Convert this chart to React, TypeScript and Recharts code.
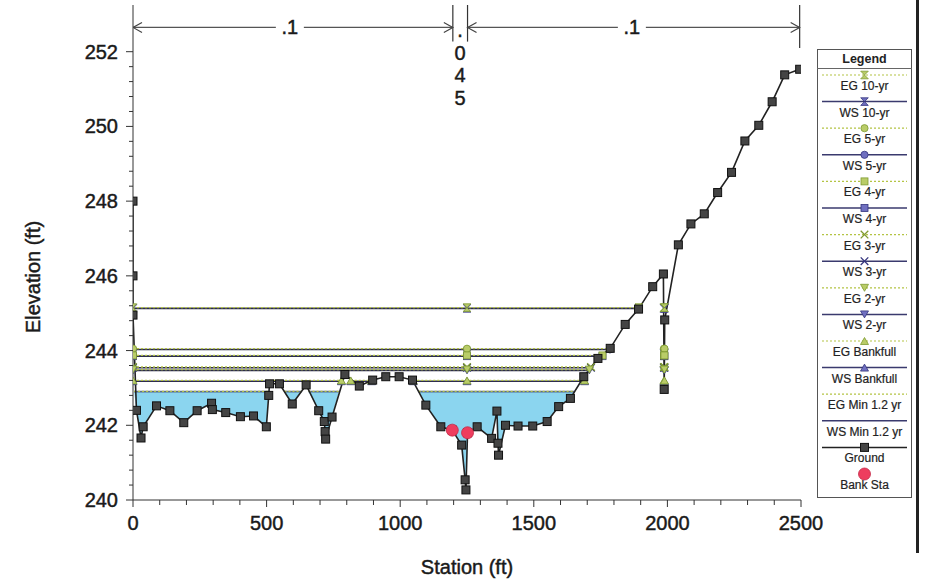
import React from 'react';
import { ComposedChart, Line, Area, Scatter, XAxis, YAxis, ReferenceLine } from 'recharts';

// cross section ground (station ft / elevation ft)
const groundSta = [
  0, 0, 0, 13, 30, 38, 88, 138, 190, 240, 294, 297, 347, 402, 451, 499, 508, 511, 548, 596,
  648, 695, 716, 719, 721, 745, 793, 847, 897, 946, 996, 1046, 1096, 1152, 1195, 1230, 1243,
  1246, 1252, 1288, 1342, 1362, 1366, 1368, 1394, 1441, 1496, 1550, 1593, 1637, 1687, 1740,
  1786, 1842, 1892, 1945, 1985, 1988, 1990, 2041, 2088, 2138, 2188, 2240, 2290, 2342, 2392,
  2439, 2495,
];
const groundElev = [
  248.0, 246.0, 244.95, 242.4, 241.66, 241.96, 242.52, 242.39, 242.07, 242.39, 242.59, 242.42,
  242.34, 242.23, 242.25, 241.96, 242.8, 243.11, 243.11, 242.57, 243.08, 242.39, 242.1, 241.83,
  241.63, 242.22, 243.36, 243.05, 243.21, 243.3, 243.3, 243.21, 242.54, 241.96, 241.87, 241.47,
  240.54, 240.27, 241.8, 241.96, 241.65, 242.38, 241.52, 241.2, 242.0, 241.98, 241.98, 242.1,
  242.5, 242.72, 243.3, 243.79, 244.06, 244.7, 245.11, 245.71, 246.05, 242.96, 244.82, 246.83,
  247.39, 247.66, 248.23, 248.77, 249.61, 250.03, 250.66, 251.38, 251.53,
];

const bankSta = [1195, 1252];
const bankElev = [241.87, 241.8];

// water surface / energy grade per profile
const profiles = ['10-yr', '5-yr', '4-yr', '3-yr', '2-yr', 'Bankfull', 'Min 1.2 yr'];
const wsElev = [245.13, 244.03, 243.85, 243.54, 243.47, 243.18, 242.9];
const egElev = [245.15, 244.05, 243.87, 243.56, 243.49, 243.2, 242.91];
const markers = ['hourglass', 'circle', 'square', 'x', 'tri-down', 'tri-up', 'none'];

// stations where each profile line is drawn (null = break)
const sta10 = [0, 1250, 1893, null, 1987, 1989];
const sta5 = [0, 1250, 1785, null, 1987, 1989];
const sta4 = [0, 1250, 1757, null, 1987, 1989];
const sta3 = [0, 1250, 1714, null, 1987, 1989];
const sta2 = [0, 1250, 1708, null, 1987, 1989];
const staBank = [0, 780, null, 815, 893, null, 1049, 1250, 1690, null, 1987, 1989];
const staMin = [4, 509, null, 567, 630, null, 657, 770, null, 1069, 1652];
const profileSta = [sta10, sta5, sta4, sta3, sta2, staBank, staMin];

// Manning's n reaches
const reachBounds = [0, 1197, 1252, 2495];
const reachN = ['.1', '.045', '.1'];
const reachLabelSta = [587, 1224, 1867];

const xTicks = Array.from({ length: 26 }, (_, i) => i * 100);
const yTicks = Array.from({ length: 31 }, (_, i) => Math.round((240 + i * 0.4) * 10) / 10);

const FONT = '"Liberation Sans", Arial, Helvetica, sans-serif';
const INK = '#1a1a1a';
const WS_LINE = '#2e2e4a';
const EG_LINE = '#b4c444';
const WS_MARK = ['#7070c0', '#34347e'];
const EG_MARK = ['#b9cc68', '#7f9a32'];

const groundData = groundSta.map((x, i) => ({ x, y: groundElev[i] }));
const bankData = bankSta.map((x, i) => ({ x, y: bankElev[i] }));

function lineData(stations: (number | null)[], elev: number) {
  let last = 0;
  return stations.map((s) => {
    if (s === null) return { x: last, y: null };
    last = s;
    return { x: s, y: elev };
  });
}

// wetted area for the lowest profile
function fillData() {
  const lvl = wsElev[6];
  const out: any[] = [];
  let start: number | null = null;
  for (const s of staMin) {
    if (s === null) continue;
    if (start === null) {
      start = s;
    } else {
      const a = start;
      out.push({ x: a, band: [lvl, lvl] });
      groundSta.forEach((g, k) => {
        if (g > a && g < s) out.push({ x: g, band: [Math.min(groundElev[k], lvl), lvl] });
      });
      out.push({ x: s, band: [lvl, lvl] });
      out.push({ x: s, band: null });
      start = null;
    }
  }
  return out;
}
const wetData = fillData();

function Marker({ type, cx, cy, fill, stroke }: any) {
  const s = 3.8;
  switch (type) {
    case 'hourglass':
      return <path d={`M${cx - s},${cy - s}H${cx + s}L${cx - s},${cy + s}H${cx + s}Z`} fill={fill} stroke={stroke} strokeWidth={0.8} />;
    case 'circle':
      return <circle cx={cx} cy={cy} r={3.6} fill={fill} stroke={stroke} strokeWidth={0.8} />;
    case 'square':
      return <rect x={cx - 3.5} y={cy - 3.5} width={7} height={7} fill={fill} stroke={stroke} strokeWidth={0.8} />;
    case 'x':
      return (
        <g stroke={stroke} strokeWidth={1.3}>
          <line x1={cx - s} y1={cy - s} x2={cx + s} y2={cy + s} />
          <line x1={cx - s} y1={cy + s} x2={cx + s} y2={cy - s} />
        </g>
      );
    case 'tri-down':
      return <path d={`M${cx - 4},${cy - 3.5}L${cx + 4},${cy - 3.5}L${cx},${cy + 3.5}Z`} fill={fill} stroke={stroke} strokeWidth={0.8} />;
    case 'tri-up':
      return <path d={`M${cx - 4},${cy + 3.5}L${cx + 4},${cy + 3.5}L${cx},${cy - 3.5}Z`} fill={fill} stroke={stroke} strokeWidth={0.8} />;
    case 'ground':
      return <rect x={cx - 4} y={cy - 4} width={8} height={8} fill="#444" stroke="#111" strokeWidth={1} />;
    case 'bank':
      return <circle cx={cx} cy={cy} r={6} fill="#ee3d5e" stroke="#c42a48" strokeWidth={0.8} />;
    default:
      return null;
  }
}

const dotFor = (type: string, colors: string[]) => (p: any) => {
  if (p.cy == null || !Number.isFinite(p.cy)) return <g key={`m${p.index}`} />;
  return (
    <g key={`m${p.index}`}>
      <Marker type={type} cx={p.cx} cy={p.cy} fill={colors[0]} stroke={colors[1]} />
    </g>
  );
};

const textStyle = { fontFamily: FONT, fontSize: 20, fill: INK, stroke: INK, strokeWidth: 0.45 };

const XTick = (p: any) => {
  const v = p.payload.value;
  const major = v % 500 === 0;
  return (
    <g>
      <line x1={p.x} x2={p.x} y1={p.y} y2={p.y + (major ? 7 : 5)} stroke="#333" />
      {major && (
        <text x={p.x} y={p.y + 30} textAnchor="middle" {...textStyle}>
          {v}
        </text>
      )}
    </g>
  );
};

const YTick = (p: any) => {
  const v = p.payload.value;
  const major = Math.abs(v - Math.round(v)) < 0.01 && Math.round(v) % 2 === 0;
  return (
    <g>
      <line x1={p.x - (major ? 7 : 4)} x2={p.x} y1={p.y} y2={p.y} stroke="#333" />
      {major && (
        <text x={p.x - 15} y={p.y + 7} textAnchor="end" {...textStyle}>
          {v}
        </text>
      )}
    </g>
  );
};

const arrowData = [
  { x: reachBounds[0], y: 252.65, dir: -1 },
  { x: reachBounds[1], y: 252.65, dir: 1 },
  { x: reachBounds[2], y: 252.65, dir: -1 },
  { x: reachBounds[3], y: 252.65, dir: 1 },
];
const nLabelData = reachN.map((t, i) => ({ x: reachLabelSta[i], y: 252.65, t }));

const ArrowHead = (p: any) => {
  const d = p.payload.dir;
  const { cx, cy } = p;
  return <path d={`M${cx - d * 9},${cy - 5}L${cx},${cy}L${cx - d * 9},${cy + 5}`} fill="none" stroke="#444" strokeWidth={1.2} />;
};

const NLabel = (p: any) => {
  const { cx, cy } = p;
  const t: string = p.payload.t;
  if (t.length > 2) {
    // narrow channel: stack the characters vertically
    return (
      <g textAnchor="middle">
        {t.split('').map((c, i) => (
          <text key={i} x={cx} y={cy + (i === 0 ? 10 : 10 + i * 22.5)} {...textStyle}>
            {c}
          </text>
        ))}
      </g>
    );
  }
  return (
    <g>
      <rect x={cx - 14} y={cy - 10} width={28} height={20} fill="#fff" />
      <text x={cx} y={cy + 7} textAnchor="middle" {...textStyle}>
        {t}
      </text>
    </g>
  );
};

const legendItems = [
  ...profiles.flatMap((name, i) => [
    { label: `EG ${name}`, kind: 'EG', marker: markers[i] },
    { label: `WS ${name}`, kind: 'WS', marker: markers[i] },
  ]),
  { label: 'Ground', kind: 'ground', marker: 'ground' },
  { label: 'Bank Sta', kind: 'bank', marker: 'bank' },
];

function LegendBox() {
  return (
    <svg width={95} height={449} style={{ position: 'absolute', left: 817, top: 49, background: '#fff' }}>
      <rect x={0.5} y={0.5} width={94} height={448} fill="#fff" stroke="#555" />
      <text x={47.5} y={14} textAnchor="middle" fontFamily={FONT} fontWeight="bold" fontSize={12.5} fill="#222">
        Legend
      </text>
      <line x1={0} x2={95} y1={19.5} y2={19.5} stroke="#666" />
      {legendItems.map((it, i) => {
        const ly = 26 + i * 26.6;
        const ty = 41 + i * 26.6;
        const colors = it.kind === 'EG' ? EG_MARK : WS_MARK;
        return (
          <g key={it.label}>
            {it.kind === 'EG' && (
              <line x1={5} x2={90} y1={ly} y2={ly} stroke={EG_LINE} strokeWidth={1.2} strokeDasharray="2 2" />
            )}
            {it.kind === 'WS' && <line x1={5} x2={90} y1={ly} y2={ly} stroke="#3a3a6e" strokeWidth={1.5} />}
            {it.kind === 'ground' && <line x1={5} x2={90} y1={ly} y2={ly} stroke="#222" strokeWidth={1.5} />}
            <Marker type={it.marker} cx={47.5} cy={ly} fill={colors[0]} stroke={colors[1]} />
            <text x={47.5} y={ty} textAnchor="middle" fontFamily={FONT} fontSize={12} fill="#222" stroke="#222" strokeWidth={0.2}>
              {it.label}
            </text>
          </g>
        );
      })}
    </svg>
  );
}

export default function App() {
  return (
    <div style={{ position: 'absolute', left: 0, top: 0, width: 925, height: 585, background: '#fff', overflow: 'hidden' }}>
      <ComposedChart width={925} height={585} margin={{ top: 5, right: 124, bottom: 0, left: 0 }}>
        <XAxis
          type="number"
          dataKey="x"
          domain={[0, 2500]}
          ticks={xTicks}
          interval={0}
          allowDataOverflow
          height={85}
          tickSize={0}
          tickMargin={0}
          tickLine={false}
          tick={XTick}
          stroke="#333"
          label={{
            content: () => (
              <text x={467} y={574} textAnchor="middle" {...textStyle}>
                Station (ft)
              </text>
            ),
          }}
        />
        <YAxis
          type="number"
          domain={[240, 253.25]}
          ticks={yTicks}
          interval={0}
          allowDataOverflow
          width={133}
          tickSize={0}
          tickMargin={0}
          tickLine={false}
          tick={YTick}
          stroke="#333"
          label={{
            content: () => (
              <text x={40} y={277} transform="rotate(-90 40 277)" textAnchor="middle" {...textStyle}>
                Elevation (ft)
              </text>
            ),
          }}
        />

        <Area data={wetData} dataKey="band" type="linear" fill="#8bd5ef" fillOpacity={1} stroke="none" isAnimationActive={false} />

        {profiles.map((name, i) => (
          <Line
            key={`ws-${name}`}
            data={lineData(profileSta[i], wsElev[i])}
            dataKey="y"
            type="linear"
            stroke={i === 6 ? '#5b6b8c' : WS_LINE}
            strokeWidth={1.6}
            dot={markers[i] === 'none' ? false : dotFor(markers[i], WS_MARK)}
            activeDot={false}
            isAnimationActive={false}
          />
        ))}
        {profiles.map((name, i) => (
          <Line
            key={`eg-${name}`}
            data={lineData(profileSta[i], egElev[i])}
            dataKey="y"
            type="linear"
            stroke={EG_LINE}
            strokeWidth={1.3}
            strokeDasharray="2 2"
            dot={markers[i] === 'none' ? false : dotFor(markers[i], EG_MARK)}
            activeDot={false}
            isAnimationActive={false}
          />
        ))}

        <Line
          data={groundData}
          dataKey="y"
          type="linear"
          stroke="#222"
          strokeWidth={1.6}
          dot={dotFor('ground', ['#444', '#111'])}
          activeDot={false}
          isAnimationActive={false}
        />
        <Scatter data={bankData} dataKey="y" shape={(p: any) => <Marker type="bank" cx={p.cx} cy={p.cy} />} isAnimationActive={false} />

        {/* Manning's n reach annotation */}
        <ReferenceLine segment={[{ x: reachBounds[0], y: 252.65 }, { x: reachBounds[1], y: 252.65 }]} stroke="#555" strokeWidth={1.2} />
        <ReferenceLine segment={[{ x: reachBounds[2], y: 252.65 }, { x: reachBounds[3], y: 252.65 }]} stroke="#555" strokeWidth={1.2} />
        <ReferenceLine segment={[{ x: reachBounds[1], y: 253.25 }, { x: reachBounds[1], y: 252.27 }]} stroke="#333" strokeWidth={1.2} />
        <ReferenceLine segment={[{ x: reachBounds[2], y: 253.25 }, { x: reachBounds[2], y: 252.27 }]} stroke="#333" strokeWidth={1.2} />
        <ReferenceLine segment={[{ x: reachBounds[3], y: 253.25 }, { x: reachBounds[3], y: 252.1 }]} stroke="#333" strokeWidth={1.2} />
        <Scatter data={arrowData} dataKey="y" shape={ArrowHead} isAnimationActive={false} />
        <Scatter data={nLabelData} dataKey="y" shape={NLabel} isAnimationActive={false} />
      </ComposedChart>
      <LegendBox />
      <div style={{ position: 'absolute', left: 916, top: 0, width: 3, height: 553, background: '#222' }} />
    </div>
  );
}
